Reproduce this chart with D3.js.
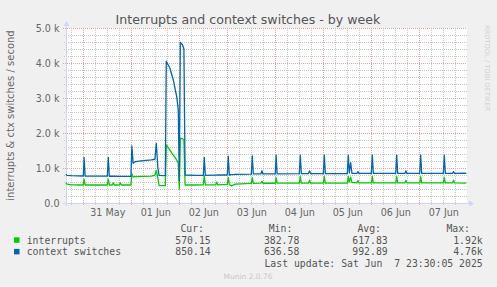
<!DOCTYPE html>
<html><head><meta charset="utf-8">
<script src="https://cdn.jsdelivr.net/npm/d3@7"></script>
<style>
html,body{margin:0;padding:0;background:#f0f0f0;}
svg{display:block;}
text{font-family:"DejaVu Sans",sans-serif;}
.mono{font-family:"DejaVu Sans Mono",monospace;white-space:pre;}
</style></head><body>
<svg id="c" width="497" height="287"></svg>
<script>
const title = "Interrupts and context switches - by week";
const yLabel = "interrupts & ctx switches / second";
const seriesNames = ["interrupts", "context switches"];
const seriesColors = ["#00cc00", "#0066b3"];
// hours since 2025-05-31 00:00 (UTC)
const hours = [-8.7,-8.2,-6,-3,0.0,0.4,0.9,6,12.0,12.5,13.0,14.5,15.0,15.5,18.0,18.5,19.0,23.8,24.3,24.9,26,30,34,35.8,36.5,37.3,37.9,41.0,41.5,43.3,45.0,46.7,47.5,48.0,48.5,49.6,50.3,50.9,56,60.0,60.5,61.0,66.2,66.7,67.2,72.0,72.5,73.0,74.0,76,84.0,84.5,85.0,88.8,89.3,89.8,96.0,96.4,96.9,108.0,108.5,109.0,112.6,113.1,113.6,120.0,120.5,121.0,132.0,132.5,133.0,133.7,134.3,136.8,137.3,137.8,144.0,144.5,145.0,156.2,156.7,157.2,160.8,161.3,161.8,168.2,168.7,169.2,180.0,180.5,181.0,184.6,185.1,185.6,191.5];
const interrupts = [580,540,520,515,515,680,515,515,515,680,515,515,580,515,515,580,515,515,830,750,755,760,770,790,930,700,500,495,1660,1514,1371,1230,1135,400,1850,1840,1800,515,515,520,770,520,520,600,520,530,725,530,490,540,560,725,560,565,620,565,565,725,565,570,750,570,570,650,570,570,750,570,570,750,600,740,590,575,640,575,575,750,575,575,750,575,575,650,575,575,750,575,575,730,575,575,650,575,570];
const ctxSwitches = [820,790,780,775,772,1300,770,770,768,1300,765,765,765,765,760,760,760,760,1630,1140,1180,1210,1230,1250,1700,1000,790,780,4050,3850,3515,3040,2660,640,4590,4520,4400,800,790,790,1300,790,795,795,800,800,1340,800,810,815,825,1345,830,830,920,830,835,1370,835,840,1370,840,840,920,840,840,1370,840,840,1370,860,1150,850,845,895,845,845,1370,845,845,1370,845,845,920,845,845,1370,845,845,1370,845,845,895,845,850];
const yTicks = [0, 1000, 2000, 3000, 4000, 5000];
const yTickLabels = ["0.0", "1.0 k", "2.0 k", "3.0 k", "4.0 k", "5.0 k"];
const legendHeaders = ["Cur:", "Min:", "Avg:", "Max:"];
const legendInterrupts = ["570.15", "382.78", "617.83", "1.92k"];
const legendCtx = ["850.14", "636.58", "992.89", "4.76k"];
const lastUpdate = "Last update: Sat Jun  7 23:30:05 2025";
const footer = "Munin 2.0.76";
const sideText = "RRDTOOL / TOBI OETIKER";

const svg = d3.select("#c");
const L = 66, R = 467, T = 28, B = 203;
const base = Date.UTC(2025, 4, 31);
const H = 3600e3;
const x = d3.scaleUtc().domain([new Date(base - 8.65 * H), new Date(base + 191.85 * H)]).range([L, R]);
const y = d3.scaleLinear().domain([0, 5000]).range([B, T]);

// canvas
svg.append("rect").attr("x", L).attr("y", T).attr("width", R - L).attr("height", B - T).attr("fill", "#ffffff");

const grid = svg.append("g").attr("shape-rendering", "crispEdges");
// minor vertical
x.ticks(d3.utcHour.every(6)).forEach(d => {
  if (d.getUTCHours() === 0) return;
  const px = Math.round(x(d)) + 0.5;
  grid.append("line").attr("x1", px).attr("x2", px).attr("y1", T).attr("y2", B + 2)
    .attr("stroke", "#c8c8c8").attr("stroke-dasharray", "1,1");
});
// minor horizontal
d3.range(200, 5001, 200).forEach(v => {
  if (v % 1000 === 0) return;
  const py = Math.round(y(v)) + 0.5;
  grid.append("line").attr("x1", L - 2).attr("x2", R).attr("y1", py).attr("y2", py)
    .attr("stroke", "#c8c8c8").attr("stroke-dasharray", "1,1");
});
// major vertical
x.ticks(d3.utcDay.every(1)).forEach(d => {
  const px = Math.round(x(d)) + 0.5;
  grid.append("line").attr("x1", px).attr("x2", px).attr("y1", T).attr("y2", B + 3)
    .attr("stroke", "#eaa0a0").attr("stroke-dasharray", "1,1");
});
// major horizontal
yTicks.forEach(v => {
  if (v === 0) return;
  const py = Math.round(y(v)) + 0.5;
  grid.append("line").attr("x1", L - 3).attr("x2", R).attr("y1", py).attr("y2", py)
    .attr("stroke", "#eaa0a0").attr("stroke-dasharray", "1,1");
});

// axes lines and arrows
const axisColor = "#cfd6f8";
svg.append("line").attr("x1", L - 3).attr("x2", R + 3).attr("y1", B + 0.5).attr("y2", B + 0.5).attr("stroke", axisColor);
svg.append("line").attr("x1", L + 0.5).attr("x2", L + 0.5).attr("y1", B + 3).attr("y2", T - 3).attr("stroke", axisColor);
svg.append("path").attr("d", `M${R + 2},${B - 2.5}L${R + 7},${B + 0.5}L${R + 2},${B + 3.5}Z`).attr("fill", axisColor);
svg.append("path").attr("d", `M${L - 2.5},${T - 2}L${L + 0.5},${T - 7}L${L + 3.5},${T - 2}Z`).attr("fill", axisColor);

// lines
const line = d3.line().x((d, i) => x(new Date(base + hours[i] * H))).y(d => y(d));
svg.append("path").datum(interrupts).attr("d", line).attr("fill", "none")
  .attr("stroke", seriesColors[0]).attr("stroke-width", 1.3).attr("stroke-linejoin", "round");
svg.append("path").datum(ctxSwitches).attr("d", line).attr("fill", "none")
  .attr("stroke", seriesColors[1]).attr("stroke-width", 1.3).attr("stroke-linejoin", "round");

// y axis labels
const yAxis = d3.axisLeft(y).tickValues(yTicks).tickFormat((d, i) => yTickLabels[i]).tickSize(0).tickPadding(6.5);
const gy = svg.append("g").attr("transform", `translate(${L},0)`).call(yAxis);
gy.select(".domain").remove();
gy.selectAll("text").attr("fill", "#666").style("font-size", "9.6px").style("font-family", "DejaVu Sans");

// x axis labels (noon of each day)
const noons = d3.utcDay.range(new Date(base), new Date(base + 8 * 24 * H)).map(d => new Date(+d + 12 * H));
const xAxis = d3.axisBottom(x).tickValues(noons).tickFormat(d3.utcFormat("%d %b")).tickSize(0).tickPadding(6);
const gx = svg.append("g").attr("transform", `translate(0,${B})`).call(xAxis);
gx.select(".domain").remove();
gx.selectAll("text").attr("fill", "#666").style("font-size", "9.6px").style("font-family", "DejaVu Sans");

// title
svg.append("text").attr("x", 248).attr("y", 23.5).attr("text-anchor", "middle")
  .attr("fill", "#555").style("font-size", "12.6px").text(title);
// y label
svg.append("text").attr("transform", `translate(13.5,${(T + B) / 2}) rotate(-90)`).attr("text-anchor", "middle")
  .attr("fill", "#666").style("font-size", "10px").text(yLabel);
// side text
svg.append("text").attr("transform", `translate(485,25) rotate(90)`).attr("text-anchor", "start")
  .attr("fill", "#d0d0d0").style("font-size", "6.7px").text(sideText);

// legend
const hdrX = [204, 292.3, 381, 470];
const valX = [210.7, 299.3, 387.7, 482.7];
const mono = (s, xx, yy, anchor) => svg.append("text").attr("class", "mono").attr("x", xx).attr("y", yy)
  .attr("text-anchor", anchor).attr("fill", "#555").style("font-size", "9.8px").text(s);
legendHeaders.forEach((h, i) => mono(h, hdrX[i], 231.5, "end"));
[legendInterrupts, legendCtx].forEach((vals, r) => {
  const yy = 243.5 + r * 11.6;
  svg.append("rect").attr("x", 14).attr("y", yy - 6.2).attr("width", 5.5).attr("height", 5.5).attr("fill", seriesColors[r]);
  mono(seriesNames[r], 26.7, yy, "start");
  vals.forEach((v, i) => mono(v, valX[i], yy, "end"));
});
mono(lastUpdate, 482.7, 267, "end");
svg.append("text").attr("x", 248).attr("y", 279).attr("text-anchor", "middle")
  .attr("fill", "#c8c8c8").style("font-size", "7.5px").text(footer);
</script>
</body></html>
